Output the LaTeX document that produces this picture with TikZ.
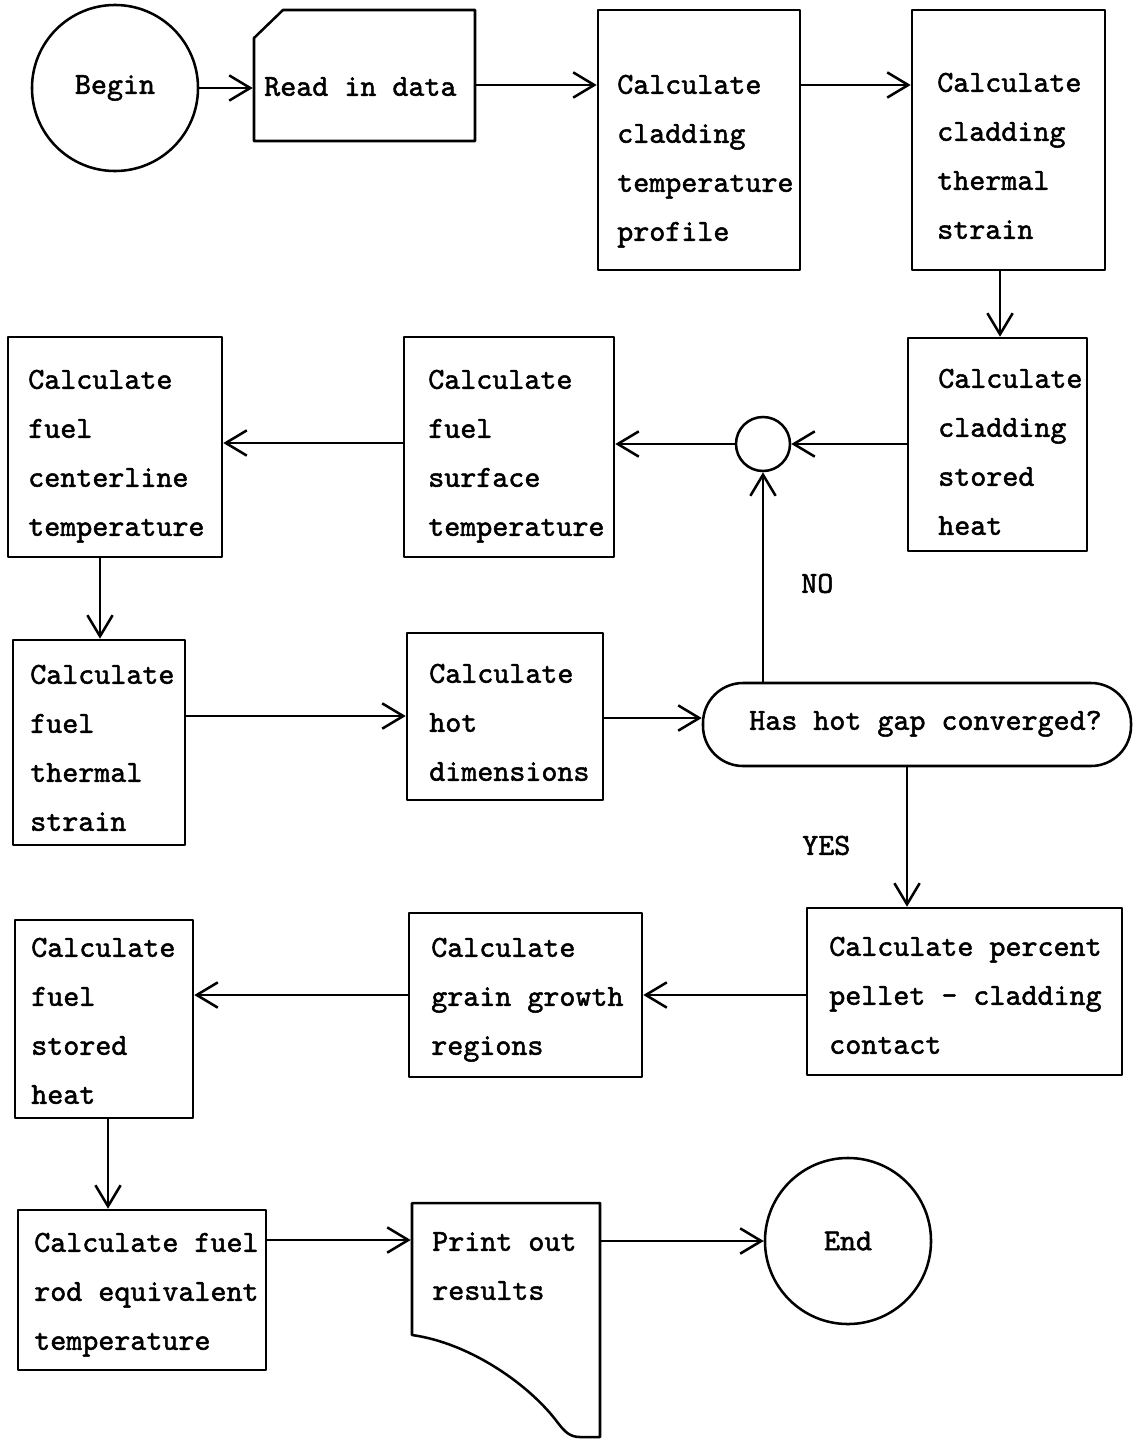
\documentclass[tikz,border=0pt]{standalone}
\usepackage{fontspec}
\usetikzlibrary{arrows.meta,fit}
\newfontfamily\twfont{lmmono10-regular.otf}[FakeBold=1.6]
\newcommand\tf{\fontsize{21.7}{34.85}\selectfont\twfont}
\newcommand\fst{\rule{0pt}{16pt}}
\begin{document}
\begin{tikzpicture}[x=0.025cm,y=-0.025cm,
  line width=1.8pt, line join=round,
  box/.style={draw, inner sep=0pt},
  ghost/.style={inner sep=0pt},
  txt/.style={anchor=north west, inner sep=0pt, align=left, font=\tf},
  term/.style={draw, circle, minimum size=4.15cm, inner sep=0pt, font=\tf},
  arr/.style={-{Straight Barb[length=15pt,width=18pt]}}]
\useasboundingbox (0,0) rectangle (1133,1439);

% terminals
\node[term] (begin) at (115,88) {Begin};
\node[term] (end) at (848,1241) {End};

% read in data (card)
\node[ghost, fit={(254,10) (475,141)}] (read) {};
\draw (254,38) -- (283,10) -- (475,10) -- (475,141) -- (254,141) -- cycle;
\node[txt] (readt) at (263,72) {\fst Read in data};

% boxes
\node[box, fit={(598,10) (800,270)}] (prof) {};
\node[txt] (proft) at (616,70) {\fst Calculate\\cladding\\temperature\\profile};
\node[box, fit={(912,10) (1105,270)}] (therm) {};
\node[txt] (thermt) at (936,68) {\fst Calculate\\cladding\\thermal\\strain};
\node[box, fit={(908,338) (1087,551)}] (stored) {};
\node[txt] (storedt) at (937,364) {\fst Calculate\\cladding\\stored\\heat};
\node[box, fit={(404,337) (614,557)}] (surf) {};
\node[txt] (surft) at (427,365) {\fst Calculate\\fuel\\surface\\temperature};
\node[box, fit={(8,337) (222,557)}] (cent) {};
\node[txt] (centt) at (27,365) {\fst Calculate\\fuel\\centerline\\temperature};
\node[box, fit={(13,640) (185,845)}] (fts) {};
\node[txt] (ftst) at (29,660) {\fst Calculate\\fuel\\thermal\\strain};
\node[box, fit={(407,633) (603,800)}] (hot) {};
\node[txt] (hott) at (428,659) {\fst Calculate\\hot\\dimensions};
\node[box, fit={(807,908) (1122,1075)}] (pct) {};
\node[txt] (pctt) at (828,932) {\fst Calculate percent\\pellet - cladding\\contact};
\node[box, fit={(409,913) (642,1077)}] (grain) {};
\node[txt] (graint) at (430,933) {\fst Calculate\\grain growth\\regions};
\node[box, fit={(15,920) (193,1118)}] (fsh) {};
\node[txt] (fsht) at (30,933) {\fst Calculate\\fuel\\stored\\heat};
\node[box, fit={(18,1210) (266,1370)}] (rod) {};
\node[txt] (rodt) at (33,1228) {\fst Calculate fuel\\rod equivalent\\temperature};

% junction
\node[draw, circle, minimum size=1.35cm, inner sep=0pt] (junc) at (763,444) {};

% decision
\node[box, rounded corners=1.0cm, fit={(703,683) (1131,766)}] (dec) {};
\node[txt] (dect) at (748,706) {\fst Has hot gap converged?};

% print out (document)
\node[ghost, fit={(412,1203) (600,1437)}] (print) {};
\draw (412,1203) -- (600,1203) -- (600,1437) -- (580,1437)
  .. controls (570,1437) and (565,1432) .. (558,1423)
  .. controls (530,1385) and (470,1343) .. (412,1335) -- cycle;
\node[txt] (printt) at (431,1227) {\fst Print out\\results};

% labels
\node[txt] (no) at (800,569) {\fst NO};
\node[txt] (yes) at (801,831) {\fst YES};

% connectors
\draw[arr] (begin.east) -- (read.west |- begin.east);
\draw[arr] (read.east |- 0,85) -- (prof.west |- 0,85);
\draw[arr] (prof.east |- 0,85) -- (therm.west |- 0,85);
\draw[arr] (therm.south -| 1000,0) -- (stored.north -| 1000,0);
\draw[arr] (stored.west |- junc.east) -- (junc.east);
\draw[arr] (junc.west) -- (surf.east |- junc.west);
\draw[arr] (surf.west |- 0,443) -- (cent.east |- 0,443);
\draw[arr] (cent.south -| 100,0) -- (fts.north -| 100,0);
\draw[arr] (fts.east |- 0,716) -- (hot.west |- 0,716);
\draw[arr] (hot.east |- 0,718) -- (dec.west |- 0,718);
\draw[arr] (dec.north -| junc.south) -- (junc.south);
\draw[arr] (dec.south -| 907,0) -- (pct.north -| 907,0);
\draw[arr] (pct.west |- 0,995) -- (grain.east |- 0,995);
\draw[arr] (grain.west |- 0,995) -- (fsh.east |- 0,995);
\draw[arr] (fsh.south -| 108,0) -- (rod.north -| 108,0);
\draw[arr] (rod.east |- 0,1240) -- (print.west |- 0,1240);
\draw[arr] (print.east |- end.west) -- (end.west);
\end{tikzpicture}
\end{document}
